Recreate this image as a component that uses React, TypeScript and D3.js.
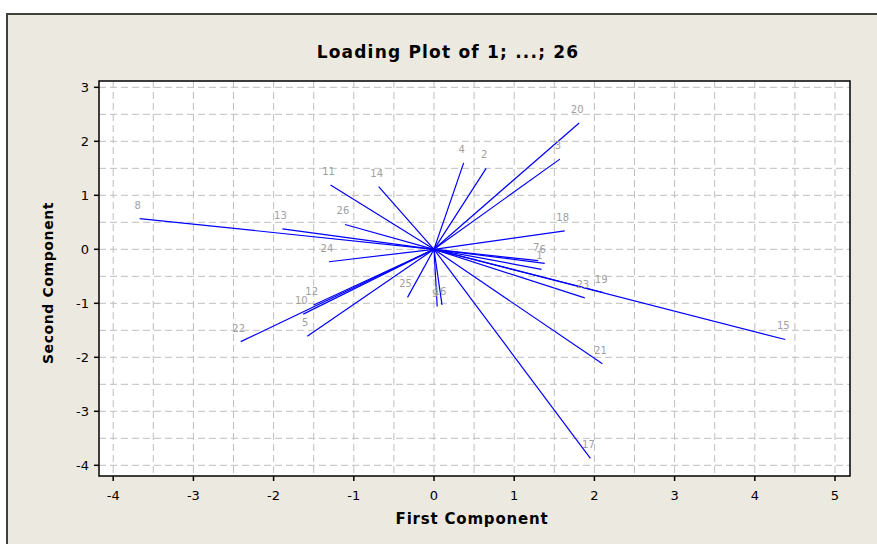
import React from "react";
import * as d3 from "d3";

const labels = ["1","2","3","4","5","6","7","8","9","10","11","12","13","14","15","16","17","18","19","20","21","22","23","24","25","26"];
const firstComponent = [1.34,0.65,1.57,0.37,-1.58,1.38,1.30,-3.67,0.04,-1.63,-1.29,-1.50,-1.89,-0.69,4.38,0.10,1.95,1.63,2.11,1.81,2.10,-2.41,1.88,-1.31,-0.33,-1.11];
const secondComponent = [-0.37,1.50,1.67,1.60,-1.61,-0.26,-0.21,0.57,-1.06,-1.20,1.19,-1.03,0.38,1.16,-1.67,-1.03,-3.87,0.34,-0.80,2.34,-2.12,-1.71,-0.90,-0.23,-0.89,0.46];
const xTicks = [-4,-3,-2,-1,0,1,2,3,4,5];
const yTicks = [3,2,1,0,-1,-2,-3,-4];
const title = "Loading Plot of 1; ...; 26";
const xTitle = "First Component";
const yTitle = "Second Component";

export default function App() {
  const W = 877, H = 544;
  const left = 99, right = 850, top = 81, bottom = 476;
  const x = d3.scaleLinear().domain([-4.177, 5.187]).range([left, right]);
  const y = d3.scaleLinear().domain([-4.198, 3.117]).range([bottom, top]);
  const gridX = d3.range(-4, 5.01, 0.5);
  const gridY = d3.range(-4, 3.01, 0.5);
  const font = "'DejaVu Sans', Verdana, sans-serif";
  return (
    <svg width={W} height={H} style={{ position: "absolute", left: 0, top: 0 }} xmlns="http://www.w3.org/2000/svg">
      <rect x={0} y={0} width={W} height={H} fill="#ffffff" />
      <rect x={7} y={14} width={W + 10} height={H + 10} fill="#ECE9E0" stroke="#404040" strokeWidth={2} />
      <text x={448} y={58} textAnchor="middle" fontFamily={font} fontWeight="bold" fontSize={17} letterSpacing={1.2} fill="#000">{title}</text>
      <rect x={left} y={top} width={right - left} height={bottom - top} fill="#ffffff" />
      {gridX.map((v, i) => (
        <line key={"gx" + i} x1={x(v)} x2={x(v)} y1={top} y2={bottom} stroke="#BEBEBE" strokeWidth={1} strokeDasharray="7,4" />
      ))}
      {gridY.map((v, i) => (
        <line key={"gy" + i} y1={y(v)} y2={y(v)} x1={left} x2={right} stroke="#BEBEBE" strokeWidth={1} strokeDasharray="7,4" />
      ))}
      {labels.map((l, i) => (
        <line key={"l" + i} x1={x(0)} y1={y(0)} x2={x(firstComponent[i])} y2={y(secondComponent[i])} stroke="#0000FF" strokeWidth={1.2} />
      ))}
      {labels.map((l, i) => (
        <text key={"t" + i} x={x(firstComponent[i]) - 2} y={y(secondComponent[i]) - 10} textAnchor="middle" fontFamily={font} fontSize={10} fill="#A0A0A0">{l}</text>
      ))}
      <rect x={left} y={top} width={right - left} height={bottom - top} fill="none" stroke="#000" strokeWidth={1.5} />
      {xTicks.map((v) => (
        <g key={"xt" + v}>
          <line x1={x(v)} x2={x(v)} y1={bottom} y2={bottom + 5} stroke="#000" strokeWidth={1.5} />
          <text x={x(v)} y={bottom + 24} textAnchor="middle" fontFamily={font} fontSize={13} fill="#000">{v}</text>
        </g>
      ))}
      {yTicks.map((v) => (
        <g key={"yt" + v}>
          <line x1={left - 5} x2={left} y1={y(v)} y2={y(v)} stroke="#000" strokeWidth={1.5} />
          <text x={left - 10} y={y(v) + 5} textAnchor="end" fontFamily={font} fontSize={13} fill="#000">{v}</text>
        </g>
      ))}
      <text x={472} y={524} textAnchor="middle" fontFamily={font} fontWeight="bold" fontSize={15} letterSpacing={0.8} fill="#000">{xTitle}</text>
      <text transform={`translate(53,283) rotate(-90)`} textAnchor="middle" fontFamily={font} fontWeight="bold" fontSize={14} letterSpacing={0.6} fill="#000">{yTitle}</text>
    </svg>
  );
}
